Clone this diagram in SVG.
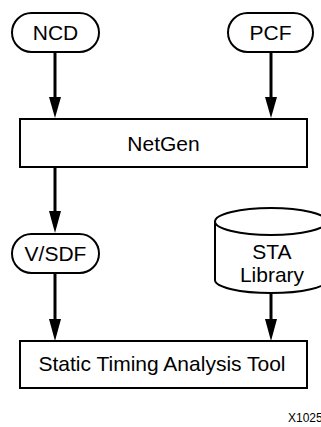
<svg xmlns="http://www.w3.org/2000/svg" width="321" height="427" viewBox="0 0 321 427">
<style>
.shape{fill:#fff;stroke:#000;stroke-width:2}
.lbl{font-family:"Liberation Sans",Arial,sans-serif;font-size:21px;fill:#000;text-anchor:middle}
.conn{stroke:#000;stroke-width:3;fill:none}
.head{fill:#000}
.tag{font-family:"Liberation Sans",Arial,sans-serif;font-size:12px;fill:#000}
</style>
<rect width="321" height="427" fill="#fff"/>
<g id="connectors">
<line class="conn" x1="55" y1="53" x2="55" y2="98"/>
<path class="head" d="M49,97 L61,97 L55,118 Z"/>
<line class="conn" x1="271" y1="53" x2="271" y2="98"/>
<path class="head" d="M265,97 L277,97 L271,118 Z"/>
<line class="conn" x1="55" y1="167" x2="55" y2="212"/>
<path class="head" d="M49,211 L61,211 L55,233 Z"/>
<line class="conn" x1="55" y1="273" x2="55" y2="320"/>
<path class="head" d="M49,319 L61,319 L55,341 Z"/>
<line class="conn" x1="271" y1="293" x2="271" y2="320"/>
<path class="head" d="M265,319 L277,319 L271,341 Z"/>
</g>
<g id="ncd">
<rect class="shape" x="12" y="13" width="87" height="39" rx="19.5" ry="19.5"/>
<text class="lbl" x="55.5" y="40">NCD</text>
</g>
<g id="pcf">
<rect class="shape" x="228" y="13" width="85" height="39" rx="19.5" ry="19.5"/>
<text class="lbl" x="270.5" y="40">PCF</text>
</g>
<g id="netgen">
<rect class="shape" x="20" y="119" width="287" height="48"/>
<text class="lbl" x="163.5" y="150.5">NetGen</text>
</g>
<g id="vsdf">
<rect class="shape" x="12" y="234" width="87" height="39" rx="19.5" ry="19.5"/>
<text class="lbl" x="55.5" y="261">V/SDF</text>
</g>
<g id="sta-library">
<path class="shape" d="M215,221.5 L215,280 A56,13 0 0 0 327,280 L327,221.5"/>
<ellipse class="shape" cx="271" cy="221.5" rx="56" ry="13.5"/>
<text class="lbl" x="272" y="259">STA</text>
<text class="lbl" x="272" y="282">Library</text>
</g>
<g id="sta-tool">
<rect class="shape" x="20" y="341" width="287" height="47"/>
<text class="lbl" x="162" y="371">Static Timing Analysis Tool</text>
</g>
<text class="tag" x="288" y="422">X1025</text>
</svg>
